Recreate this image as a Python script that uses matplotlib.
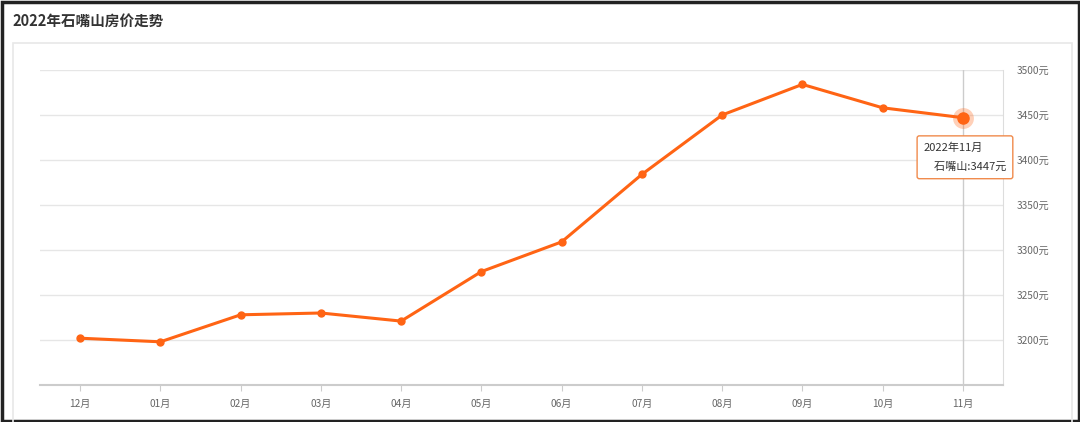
import matplotlib.pyplot as plt
from matplotlib.patches import Rectangle

plt.rcParams['font.family'] = ['Noto Sans CJK SC', 'DejaVu Sans']

# 数据
meses = ['12月', '01月', '02月', '03月', '04月', '05月',
         '06月', '07月', '08月', '09月', '10月', '11月']
precios = [3202, 3198, 3228, 3230, 3221, 3276,
           3309, 3384, 3450, 3484, 3458, 3447]
ticks_y = [3200, 3250, 3300, 3350, 3400, 3450, 3500]
titulo = '2022年石嘴山房价走势'
ciudad = '石嘴山'
fecha_tip = '2022年11月'

naranja = '#ff6414'
gris_txt = '#666666'
gris_linea = '#e6e6e6'

W, H = 1080, 422
fig = plt.figure(figsize=(W / 100, H / 100), dpi=100)
fig.patch.set_facecolor('white')

# marco negro exterior
fig.patches.append(Rectangle((1.5 / W, 1.5 / H), 1 - 3 / W, 1 - 3 / H,
                             transform=fig.transFigure, fill=False,
                             edgecolor='#222222', linewidth=2.5, zorder=0))
# panel interior
fig.patches.append(Rectangle((13 / W, -0.05), (1072 - 13) / W, 1 - 43 / H + 0.05,
                             transform=fig.transFigure, fill=False,
                             edgecolor='#e8e8e8', linewidth=1.2, zorder=0))
# titulo
fig.text(12 / W, 1 - 22 / H, titulo, fontsize=10.5, fontweight='bold',
         color='#333333', va='center', ha='left')

ax = fig.add_axes([40 / W, 37 / H, (1003 - 40) / W, (385 - 70) / H])
x = list(range(len(meses)))
ax.set_xlim(-0.5, len(meses) - 0.5)
ax.set_ylim(3150, 3500)

for v in ticks_y:
    ax.axhline(v, color=gris_linea, linewidth=1, zorder=1)

ax.spines['left'].set_visible(False)
ax.spines['top'].set_visible(False)
ax.spines['right'].set_color('#dddddd')
ax.spines['bottom'].set_color('#cccccc')
ax.spines['bottom'].set_linewidth(1.5)

ax.set_xticks(x)
ax.set_xticklabels(meses)
ax.tick_params(axis='x', colors='#cccccc', labelcolor=gris_txt,
               labelsize=7.3, length=4, pad=6)
ax.yaxis.tick_right()
ax.set_yticks(ticks_y)
ax.set_yticklabels([f'{v}元' for v in ticks_y])
ax.tick_params(axis='y', length=0, labelcolor=gris_txt, labelsize=7.3, pad=10)

# linea vertical del cursor
ax.axvline(x[-1], color='#cccccc', linewidth=1, zorder=1)

ax.plot(x, precios, color=naranja, linewidth=2.2, marker='o',
        markersize=5, zorder=3)
# punto destacado
ax.plot(x[-1], precios[-1], 'o', color=naranja, markersize=15,
        alpha=0.3, zorder=4, markeredgewidth=0)
ax.plot(x[-1], precios[-1], 'o', color=naranja, markersize=8, zorder=5)

# tooltip
ax.annotate(f'{fecha_tip}\n    {ciudad}:{precios[-1]}元',
            xy=(x[-1], precios[-1]), xytext=(1.5, -28.5),
            textcoords='offset points', fontsize=8, color='#333333',
            ha='center', va='center', multialignment='left',
            linespacing=2.05, zorder=6,
            bbox=dict(boxstyle='round,pad=0.6,rounding_size=0.2', fc='white',
                      ec='#f08a4b', lw=1))

fig.savefig('out.png', dpi=100)
